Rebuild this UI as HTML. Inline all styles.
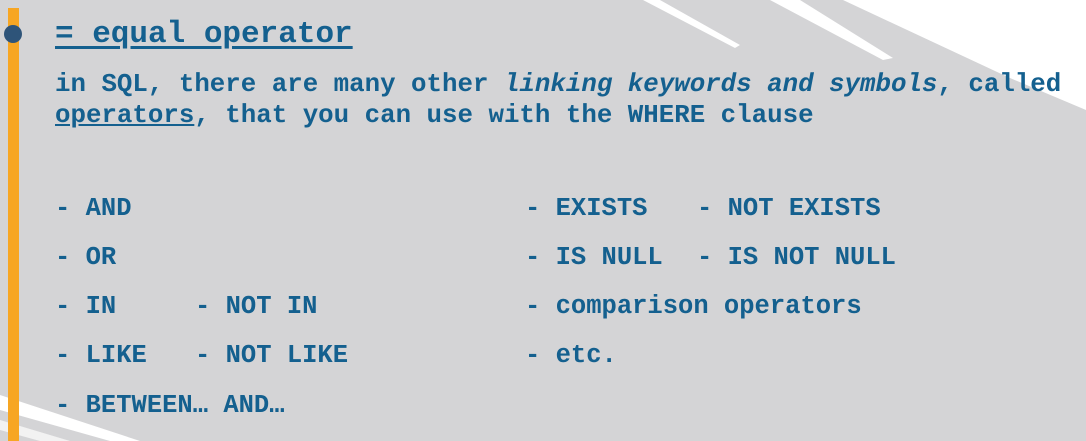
<!DOCTYPE html>
<html><head><style>
html,body{margin:0;padding:0}
body{width:1086px;height:441px;position:relative;overflow:hidden;background:#d4d4d6;font-family:"Liberation Mono",monospace;font-weight:bold;color:#14608f}
.t{position:absolute;white-space:pre;line-height:1}
.b{font-size:25.5px}
.p{font-size:25.8px}
</style></head><body>
<svg width="1086" height="441" style="position:absolute;left:0;top:0">
<polygon points="843,0 1086,0 1086,110 1010,78" fill="#fff"/>
<polygon points="1030,60 1086,78 1086,100 1055,80" fill="#fff"/>
<polygon points="643,0 660,0 740,45 735,48" fill="#fff"/>
<polygon points="770,0 800,0 893,58 883,60" fill="#fff"/>
<polygon points="0,395 0,410 110,441 140,441" fill="#fff"/>
<polygon points="0,420 0,430 40,441 70,441" fill="#f2f2f2"/>
<rect x="8" y="8" width="11" height="433" fill="#f7a623"/>
<circle cx="13" cy="34" r="9" fill="#2e5479"/>
</svg>
<div class="t" style="left:55px;top:19px;font-size:31px;text-decoration:underline;text-underline-offset:4px">= equal operator</div>
<div class="t p" style="left:55px;top:72px">in SQL, there are many other <i>linking keywords and symbols</i>, called</div>
<div class="t p" style="left:55px;top:103px"><u>operators</u>, that you can use with the WHERE clause</div>
<div class="t b" style="left:55px;top:196px">- AND</div>
<div class="t b" style="left:55px;top:245px">- OR</div>
<div class="t b" style="left:55px;top:294px">- IN</div>
<div class="t b" style="left:195px;top:294px">- NOT IN</div>
<div class="t b" style="left:55px;top:343px">- LIKE</div>
<div class="t b" style="left:195px;top:343px">- NOT LIKE</div>
<div class="t b" style="left:55px;top:393px">- BETWEEN… AND…</div>
<div class="t b" style="left:525px;top:196px">- EXISTS</div>
<div class="t b" style="left:697px;top:196px">- NOT EXISTS</div>
<div class="t b" style="left:525px;top:245px">- IS NULL</div>
<div class="t b" style="left:697px;top:245px">- IS NOT NULL</div>
<div class="t b" style="left:525px;top:294px">- comparison operators</div>
<div class="t b" style="left:525px;top:343px">- etc.</div>
</body></html>
